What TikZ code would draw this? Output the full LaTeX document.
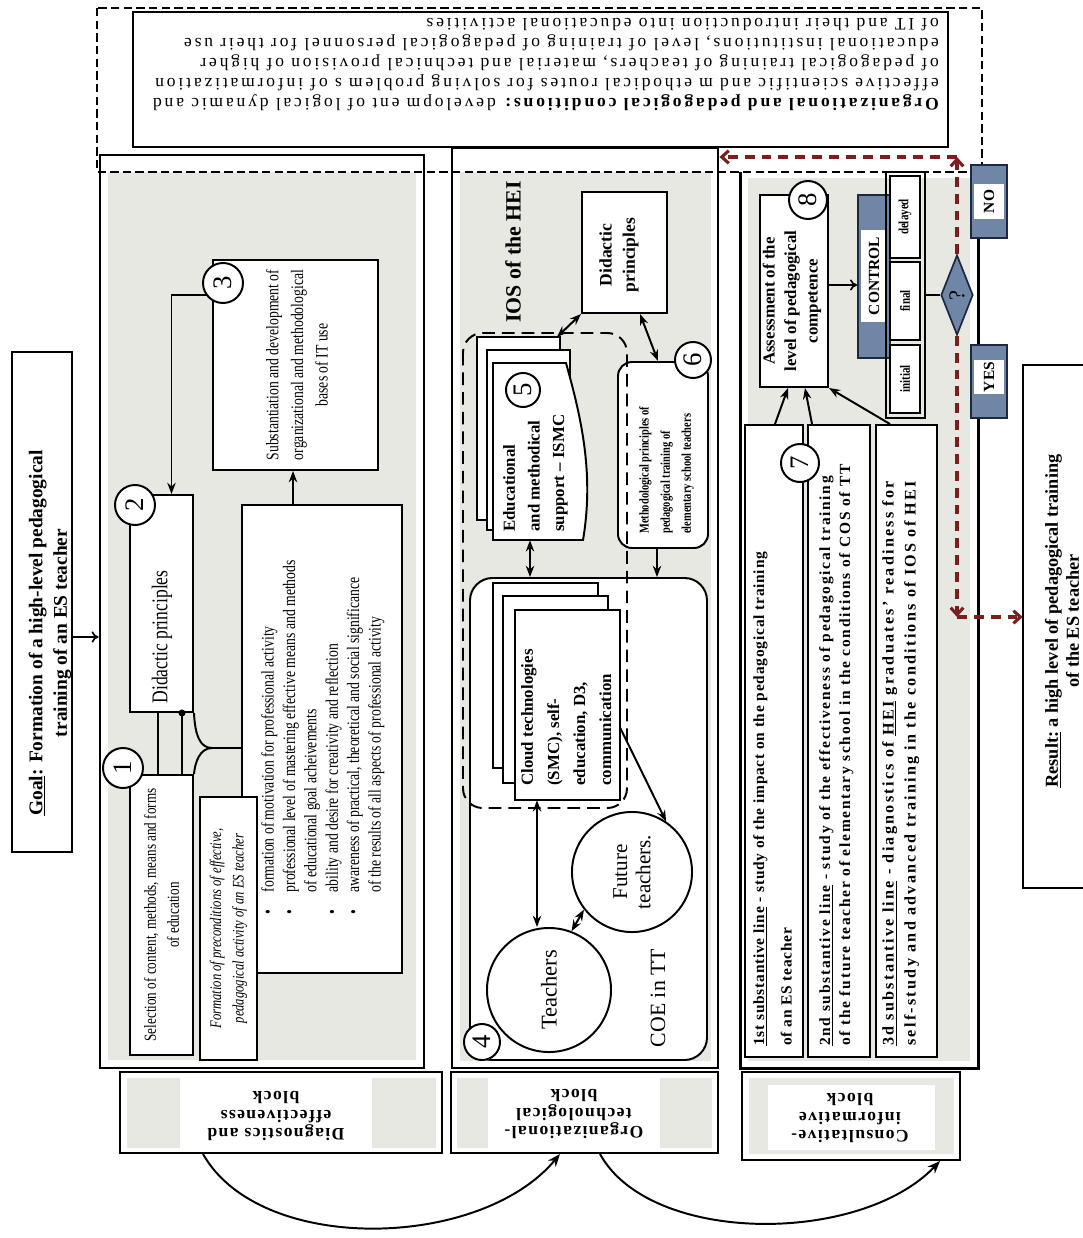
\documentclass[tikz,border=0pt]{standalone}
\usepackage{fontspec}
\setmainfont{Liberation Serif}
\newfontfamily\narrowfont[FakeStretch=0.78]{Liberation Serif}
\newfontfamily\spacedfont[LetterSpace=16]{Liberation Serif}
\newfontfamily\labelfont[LetterSpace=8]{Liberation Serif}
\usetikzlibrary{calc,fit,shapes.geometric,arrows.meta}

\definecolor{panelgrey}{RGB}{230,232,225}
\definecolor{bluegrey}{RGB}{112,134,166}
\definecolor{navy}{RGB}{28,40,66}
\definecolor{maroon}{RGB}{122,30,30}
\newcommand\fsz[2]{\fontsize{#1}{#2}\selectfont}

\tikzset{
  box/.style={draw, line width=1.4pt, fill=white, inner sep=0pt},
  col/.style={draw, line width=2pt, inner sep=0pt},
  panel/.style={fill=panelgrey, inner sep=0pt},
  page/.style={draw, line width=1.4pt, fill=white},
  num/.style={circle, draw, line width=1.4pt, fill=white, minimum size=1cm, inner sep=0pt, font=\fsz{19}{19}},
  vtext/.style={rotate=90, align=center, inner sep=0pt},
  utext/.style={rotate=180, align=center, inner sep=0pt},
  arr/.style={line width=1.4pt, -{Stealth[length=8pt,width=6pt]}},
  darr/.style={line width=1.4pt, {Stealth[length=8pt,width=6pt]}-{Stealth[length=8pt,width=6pt]}},
  oarr/.style={line width=1.2pt, -{To[length=5pt,width=8pt]}},
  fb/.style={draw=maroon, line width=2.2pt, dash pattern=on 7pt off 5pt, -{Straight Barb[length=5pt,width=9pt]}},
  bluebox/.style={draw=navy, fill=bluegrey, line width=1.4pt, inner sep=0pt},
  dashframe/.style={draw, line width=1.4pt, dash pattern=on 6pt off 3pt},
  iosframe/.style={draw, line width=1.4pt, dash pattern=on 9pt off 5pt, rounded corners=14pt},
  blk/.style={draw, line width=1.4pt, inner sep=0pt},
  blktext/.style={utext, font=\labelfont\bfseries\fsz{12.5}{13.5}},
}

\begin{document}
\begin{tikzpicture}[x=0.025cm,y=-0.025cm]
\useasboundingbox (0,0) rectangle (1083,1238);

\node[box, fit={(133,12)(948,147)}] (cond) {};
\node[utext, align=left, font=\spacedfont\fsz{12.5}{14.2}] (condtxt) at (546,65) {{\bfseries Organizational and pedagogical conditions:} developm ent of logical dynamic and\\effective scientific and m ethodical routes for solving problem s of informatization\\of pedagogical training of teachers, material and technical provision of higher\\educational institutions, level of training of pedagogical personnel for their use\\of IT and their introduction into educational activities};

\node[box, fit={(12,352)(72,852)}] (goal) {};
\node[vtext, font=\bfseries\fsz{13.8}{17.5}] (goaltxt) at (50,633) {\underline{Goal}: Formation of a high-level pedagogical\\training of an ES teacher};

\node[panel, fit={(108,172)(416,1060)}] (panA) {};
\node[col, fit={(100,155)(424,1068)}] (colA) {};
\draw[oarr] (goal.east |- 0,637) -- (colA.west |- 0,637);

\node[box, fit={(213,260)(378,470)}] (b3) {};
\node[vtext, font=\narrowfont\fsz{12.5}{17.5}] (b3txt) at (297,365) {Substantiation and development of\\organizational and methodological\\bases of IT use};
\node[box, fit={(242,505)(402,973)}] (bul) {};
\node[vtext, align=left, anchor=north west, font=\narrowfont\fsz{12.5}{15.2}] (bultxt) at (261,915) {\textbullet\quad formation of motivation for professional activity\\\textbullet\quad professional level of mastering effective means and methods\\\phantom{\textbullet\quad}of educational goal acheivements\\\textbullet\quad ability and desire for creativity and reflection\\\textbullet\quad awareness of practical, theoretical and social significance\\\phantom{\textbullet\quad}of the results of all aspects of professional activity};
\node[box, fit={(200,797)(257,1060)}] (form) {};
\node[vtext, font=\narrowfont\itshape\fsz{11.5}{16}] (formtxt) at (form) {Formation of preconditions of effective,\\pedagogical activity of an ES teacher};
\node[box, fit={(130,495)(193,712)}] (b2) {};
\node[vtext, font=\narrowfont\fsz{16}{16}] (b2txt) at (162,637) {Didactic principles};
\node[box, fit={(130,775)(193,1055)}] (b1) {};
\node[vtext, font=\narrowfont\fsz{12}{16.3}] (b1txt) at (b1) {Selection of content, methods, means and forms\\of education};

\draw[arr] (b3.west |- 0,295) -| ([xshift=0.25cm]b2.north);
\draw[line width=1.4pt] (b2.south -| 158,0) -- (b1.north -| 158,0);
\draw[line width=1.4pt] (b2.south -| 182,0) -- (b1.north -| 182,0);
\fill (b2.south -| 182,0) circle (2.5pt);
\draw[line width=1.4pt] (b2.south east) .. controls (195,735) and (200,748) .. (212,748) -- (bul.west |- 0,748);
\draw[line width=1.4pt] (b1.north east) .. controls (195,762) and (200,748) .. (212,748);
\draw[arr] (bul.north -| 293,0) -- (b3.south -| 293,0);
\node[num] (c3) at (223,283) {\rotatebox{90}{3}};
\node[num] (c2) at (135,505) {\rotatebox{90}{2}};
\node[num] (c1) at (123,768) {\rotatebox{90}{1}};

\node[panel, fit={(460,172)(711,1061)}] (panB) {};
\node[col, fit={(452,148)(718,1068)}] (colB) {};
\node[vtext, font=\bfseries\fsz{15.5}{18}] (ios) at (513,252) {IOS of the HEI};

\node[box, rounded corners=16pt, fit={(470,578)(707,1060)}] (coe) {};
\draw[page] (493,583) rectangle (598,768);
\draw[page] (503,596) rectangle (608,783);
\draw[page] (515,610) rectangle (620,800);
\node[fit={(515,610)(620,800)}, inner sep=0pt] (cloud) {};
\node[vtext, align=left, anchor=north west, font=\bfseries\fsz{12}{18.5}] (cloudtxt) at (521,786) {Cloud technologies\\(SMC), self-\\education, D3,\\communication};
\node[circle, draw, line width=1.4pt, minimum size=3.1cm, inner sep=0pt] (teach) at (549,990) {};
\node[vtext, font=\fsz{16}{18}] (teachtxt) at (teach) {Teachers};
\node[circle, draw, line width=1.4pt, minimum size=3cm, inner sep=0pt] (fut) at (632,872) {};
\node[vtext, font=\fsz{15}{16.5}] (futtxt) at (fut) {Future\\teachers.};
\node[vtext, font=\fsz{15.5}{18}] (coetxt) at (658,998) {COE in TT};

\draw[page] (477,337) rectangle (560,520);
\draw[page] (487,350) rectangle (570,530);
\draw[page] (493,363) -- (566,363) .. controls (582,420) and (594,475) .. (583,540) -- (493,540) -- cycle;
\node[fit={(493,363)(583,540)}, inner sep=0pt] (ismc) {};
\coordinate (ismcback) at (557,337);
\node[vtext, align=left, anchor=north west, font=\bfseries\fsz{12}{17.5}] (ismctxt) at (503,532) {Educational\\and methodical\\support -- ISMC};

\node[box, fit={(582,192)(667,313)}] (dp) {};
\node[vtext, font=\bfseries\fsz{12.5}{16.5}] (dptxt) at (619,255) {Didactic\\principles};
\node[box, rounded corners=10pt, fit={(618,362)(708,548)}] (b6) {};
\node[vtext, align=left, anchor=north west, font=\narrowfont\bfseries\fsz{9.5}{15}] (b6txt) at (639,534) {Methodological principles of\\pedagogical training of\\elementary school teachers};
\draw[iosframe] (463,333) rectangle (627,808);

\draw[darr] (ismcback) -- (dp.south west);
\draw[darr] (dp.south -| 640,0) -- (b6.north -| 658,0);
\draw[arr] (b6.south -| 657,0) -- (coe.north -| 657,0);
\draw[darr] (ismc.south -| 530,0) -- (coe.north -| 530,0);
\draw[darr] (cloud.south -| 537,0) -- (teach.north -| 537,0);
\draw[darr] (teach.69) -- (fut.218);
\draw[arr] (cloud.east |- 0,728) -- (fut.56);
\node[num, minimum size=0.85cm] (c5) at (523,390) {\rotatebox{90}{5}};
\node[num, minimum size=0.9cm] (c6) at (693,360) {\rotatebox{90}{6}};
\node[num, minimum size=0.9cm] (c4) at (482,1042) {\rotatebox{90}{4}};

\node[panel, fit={(748,178)(970,1061)}] (panC) {};
\node[fit={(741,172)(978,1068)}, inner sep=0pt] (colC) {};
\draw[line width=2pt] (colC.north west) |- (colC.south east) -- (colC.north east);
\draw[dashframe] (97,8) rectangle (982,172);

\node[box, fit={(760,195)(828,387)}] (b8) {};
\node[vtext, font=\bfseries\fsz{12}{15.3}] (b8txt) at (792,301) {Assessment of the\\level of pedagogical\\competence};
\node[bluebox, fit={(858,195)(890,358)}] (ctrl) {};
\node[fill=white, inner sep=0pt, fit={(861,230)(887,322)}] (ctrlw) {};
\node[vtext, font=\bfseries\fsz{11}{13}] (ctrltxt) at (ctrlw) {CONTROL};
\node[draw, line width=0.8pt, inner sep=0pt, fit={(886,172)(925,418)}] (kinds) {};
\node[box, line width=0.8pt, fit={(890,176)(920,258)}] (kdel) {};
\node[vtext, font=\narrowfont\bfseries\fsz{10}{12}] (kdeltxt) at (kdel) {delayed};
\node[box, line width=0.8pt, fit={(890,262)(920,340)}] (kfin) {};
\node[vtext, font=\narrowfont\bfseries\fsz{10}{12}] (kfintxt) at (kfin) {final};
\node[box, line width=0.8pt, fit={(890,345)(920,413)}] (kini) {};
\node[vtext, font=\narrowfont\bfseries\fsz{10}{12}] (kinitxt) at (kini) {initial};
\node[diamond, draw=navy, fill=bluegrey, line width=1.2pt, minimum width=0.8cm, minimum height=2cm, inner sep=0pt] (q) at (957,295) {\rotatebox{90}{\fsz{16}{16}?}};
\draw[oarr] (b8.east |- 0,285) -- (ctrl.west |- 0,285);
\draw[line width=0.8pt] (kinds.east |- q) -- (q.west);

\node[bluebox, fit={(971,165)(1007,238)}] (no) {};
\node[fill=white, inner sep=0pt, fit={(974,184)(1004,219)}] (now) {};
\node[vtext, font=\bfseries\fsz{11}{13}] (notxt) at (now) {NO};
\node[bluebox, fit={(971,345)(1007,418)}] (yes) {};
\node[fill=white, inner sep=0pt, fit={(974,360)(1004,394)}] (yesw) {};
\node[vtext, font=\bfseries\fsz{11}{13}] (yestxt) at (yesw) {YES};

\node[box, fit={(745,425)(803,1057)}] (l1) {};
\node[vtext, align=left, anchor=north west, font=\bfseries\addfontfeature{LetterSpace=5}\fsz{11}{19.5}] (l1txt) at (753,1046) {\underline{1st substantive line} - study of the impact on the pedagogical training\\of an ES teacher};
\node[box, fit={(808,425)(870,1057)}] (l2) {};
\node[vtext, align=left, anchor=north west, font=\bfseries\addfontfeature{LetterSpace=11}\fsz{11}{14.2}] (l2txt) at (819,1046) {\underline{2nd substantive line} - study of the effectiveness of pedagogical training\\of the future teacher of elementary school in the conditions of COS of TT};
\node[box, fit={(876,425)(937,1057)}] (l3) {};
\node[vtext, align=left, anchor=north west, font=\bfseries\addfontfeature{LetterSpace=14}\fsz{11.5}{15.6}] (l3txt) at (882,1046) {\underline{3d substantive line} - diagnostics of \underline{HEI} graduates' readiness for\\self-study and advanced training in the conditions of IOS of HEI};
\draw[arr] (l1.north -| 775,0) -- (b8.south -| 788,0);
\draw[arr] (l2.north -| 812,0) -- (b8.south -| 805,0);
\draw[arr] (l3.north -| 890,0) -- (b8.south east);
\node[num, minimum size=0.95cm] (c7) at (800,463) {\rotatebox{90}{7}};
\node[num, minimum size=0.95cm] (c8) at (808,200) {\rotatebox{90}{8}};

\node[fit={(1023,365)(1095,888)}, inner sep=0pt] (res) {};
\draw[line width=1.6pt] (res.north east) -| (res.south west) -- (res.south east);
\node[vtext, font=\bfseries\fsz{13}{15}] (restxt) at (1062,621) {\underline{Result:} a high level of pedagogical training\\of the ES teacher};

\coordinate (fbtop) at (957,157);
\coordinate (fbbot) at (957,617);
\draw[fb] (q.north) -- (fbtop);
\draw[fb] (fbtop) -- (colB.east |- fbtop);
\draw[fb] (q.south) -- (fbbot);
\draw[fb] (fbbot) -- (res.west |- fbbot);

\node[blk, fit={(120,1072)(442,1153)}] (blkA) {};
\fill[panelgrey] (127,1078) rectangle (436,1148);
\fill[white] (180,1078) rectangle (372,1148);
\node[blktext] (blkAtxt) at (276,1116) {Diagnostics and\\effectiveness\\block};
\node[blk, fit={(451,1072)(718,1153)}] (blkB) {};
\fill[panelgrey] (457,1078) rectangle (712,1148);
\fill[white] (488,1078) rectangle (660,1148);
\node[blktext] (blkBtxt) at (574,1114) {Organizational-\\technological\\block};
\node[blk, fit={(742,1072)(960,1160)}] (blkC) {};
\fill[panelgrey] (749,1078) rectangle (954,1154);
\fill[white] (768,1085) rectangle (935,1150);
\node[blktext] (blkCtxt) at (850,1118) {Consultative-\\informative\\block};

\draw[line width=1.4pt, -{Stealth[length=9pt,width=7pt]}] (blkA.south -| 203,0) .. controls (260,1255) and (480,1250) .. (blkB.south -| 560,0);
\draw[line width=1.4pt, -{Stealth[length=9pt,width=7pt]}] (blkB.south -| 600,0) .. controls (650,1245) and (860,1245) .. (blkC.south -| 940,0);
\end{tikzpicture}
\end{document}
